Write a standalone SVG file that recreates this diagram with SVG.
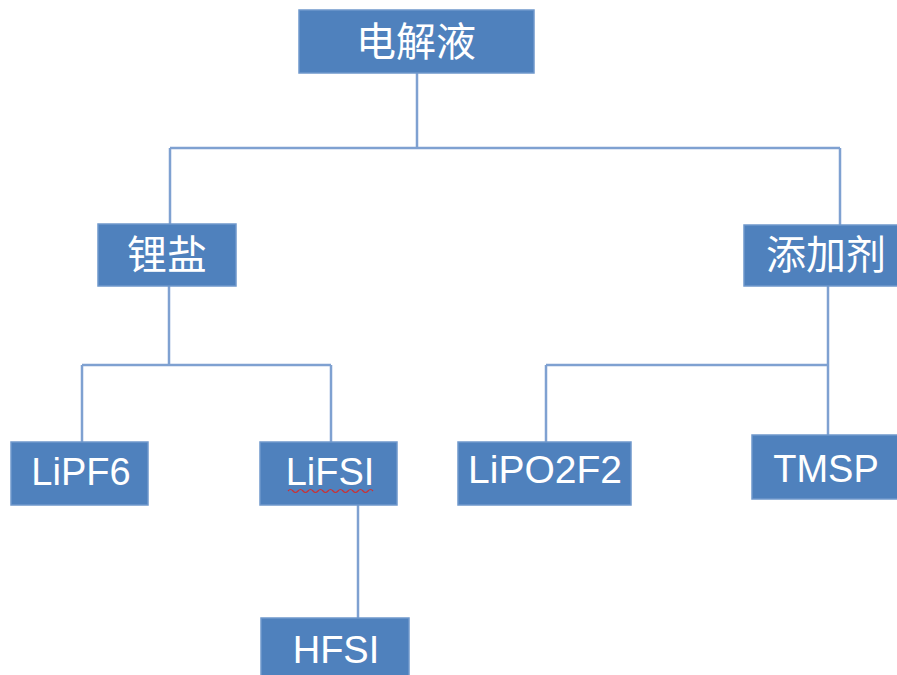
<svg xmlns="http://www.w3.org/2000/svg" width="897" height="675" viewBox="0 0 897 675">
<style>
.box{fill:#4f81bd;stroke:#6f98cc;stroke-width:1.5}
.zh{font-family:"Noto Sans CJK SC","Noto Sans",sans-serif;font-size:40px;fill:#fff;text-anchor:middle}
.en{font-family:"Liberation Sans",Arial,sans-serif;font-size:38px;fill:#fff;text-anchor:middle}
.ln{fill:none;stroke:#7fa1d1;stroke-width:2.5}
</style>
<rect width="897" height="675" fill="#fff"/>
<g id="connectors" class="ln">
<path d="M417,73 V148 M170,148 H840 M170,148 V224 M840,148 V225"/>
<path d="M169,286 V365 M82,365 H331 M82,365 V442 M331,365 V442"/>
<path d="M828,286 V365 M546,365 H828 M546,365 V442 M828,365 V435"/>
<path d="M358,505 V618"/>
</g>
<g id="n-electrolyte"><rect class="box" x="299" y="10" width="235" height="63"/><text class="zh" x="416" y="56">电解液</text></g>
<g id="n-lithium-salt"><rect class="box" x="98" y="224" width="138" height="62"/><text class="zh" x="167" y="269">锂盐</text></g>
<g id="n-additive"><rect class="box" x="744" y="225" width="166" height="61"/><text class="zh" x="826" y="269">添加剂</text></g>
<g id="n-lipf6"><rect class="box" x="11" y="442" width="137" height="63"/><text class="en" x="81" y="485">LiPF6</text></g>
<g id="n-lifsi"><rect class="box" x="260" y="442" width="137" height="63"/><text class="en" x="330" y="485">LiFSI</text>
<path d="M288,491 q2.5,-3 5,0 t5,0 t5,0 t5,0 t5,0 t5,0 t5,0 t5,0 t5,0 t5,0 t5,0 t5,0 t5,0 t5,0 t5,0 t5,0 t5,0" fill="none" stroke="#d03030" stroke-width="1.2"/></g>
<g id="n-lipo2f2"><rect class="box" x="458" y="442" width="173" height="63"/><text class="en" x="545" y="483" style="font-size:39px">LiPO2F2</text></g>
<g id="n-tmsp"><rect class="box" x="752" y="435" width="160" height="64"/><text class="en" x="826" y="482">TMSP</text></g>
<g id="n-hfsi"><rect class="box" x="261" y="618" width="148" height="70"/><text class="en" x="336" y="663">HFSI</text></g>
</svg>
